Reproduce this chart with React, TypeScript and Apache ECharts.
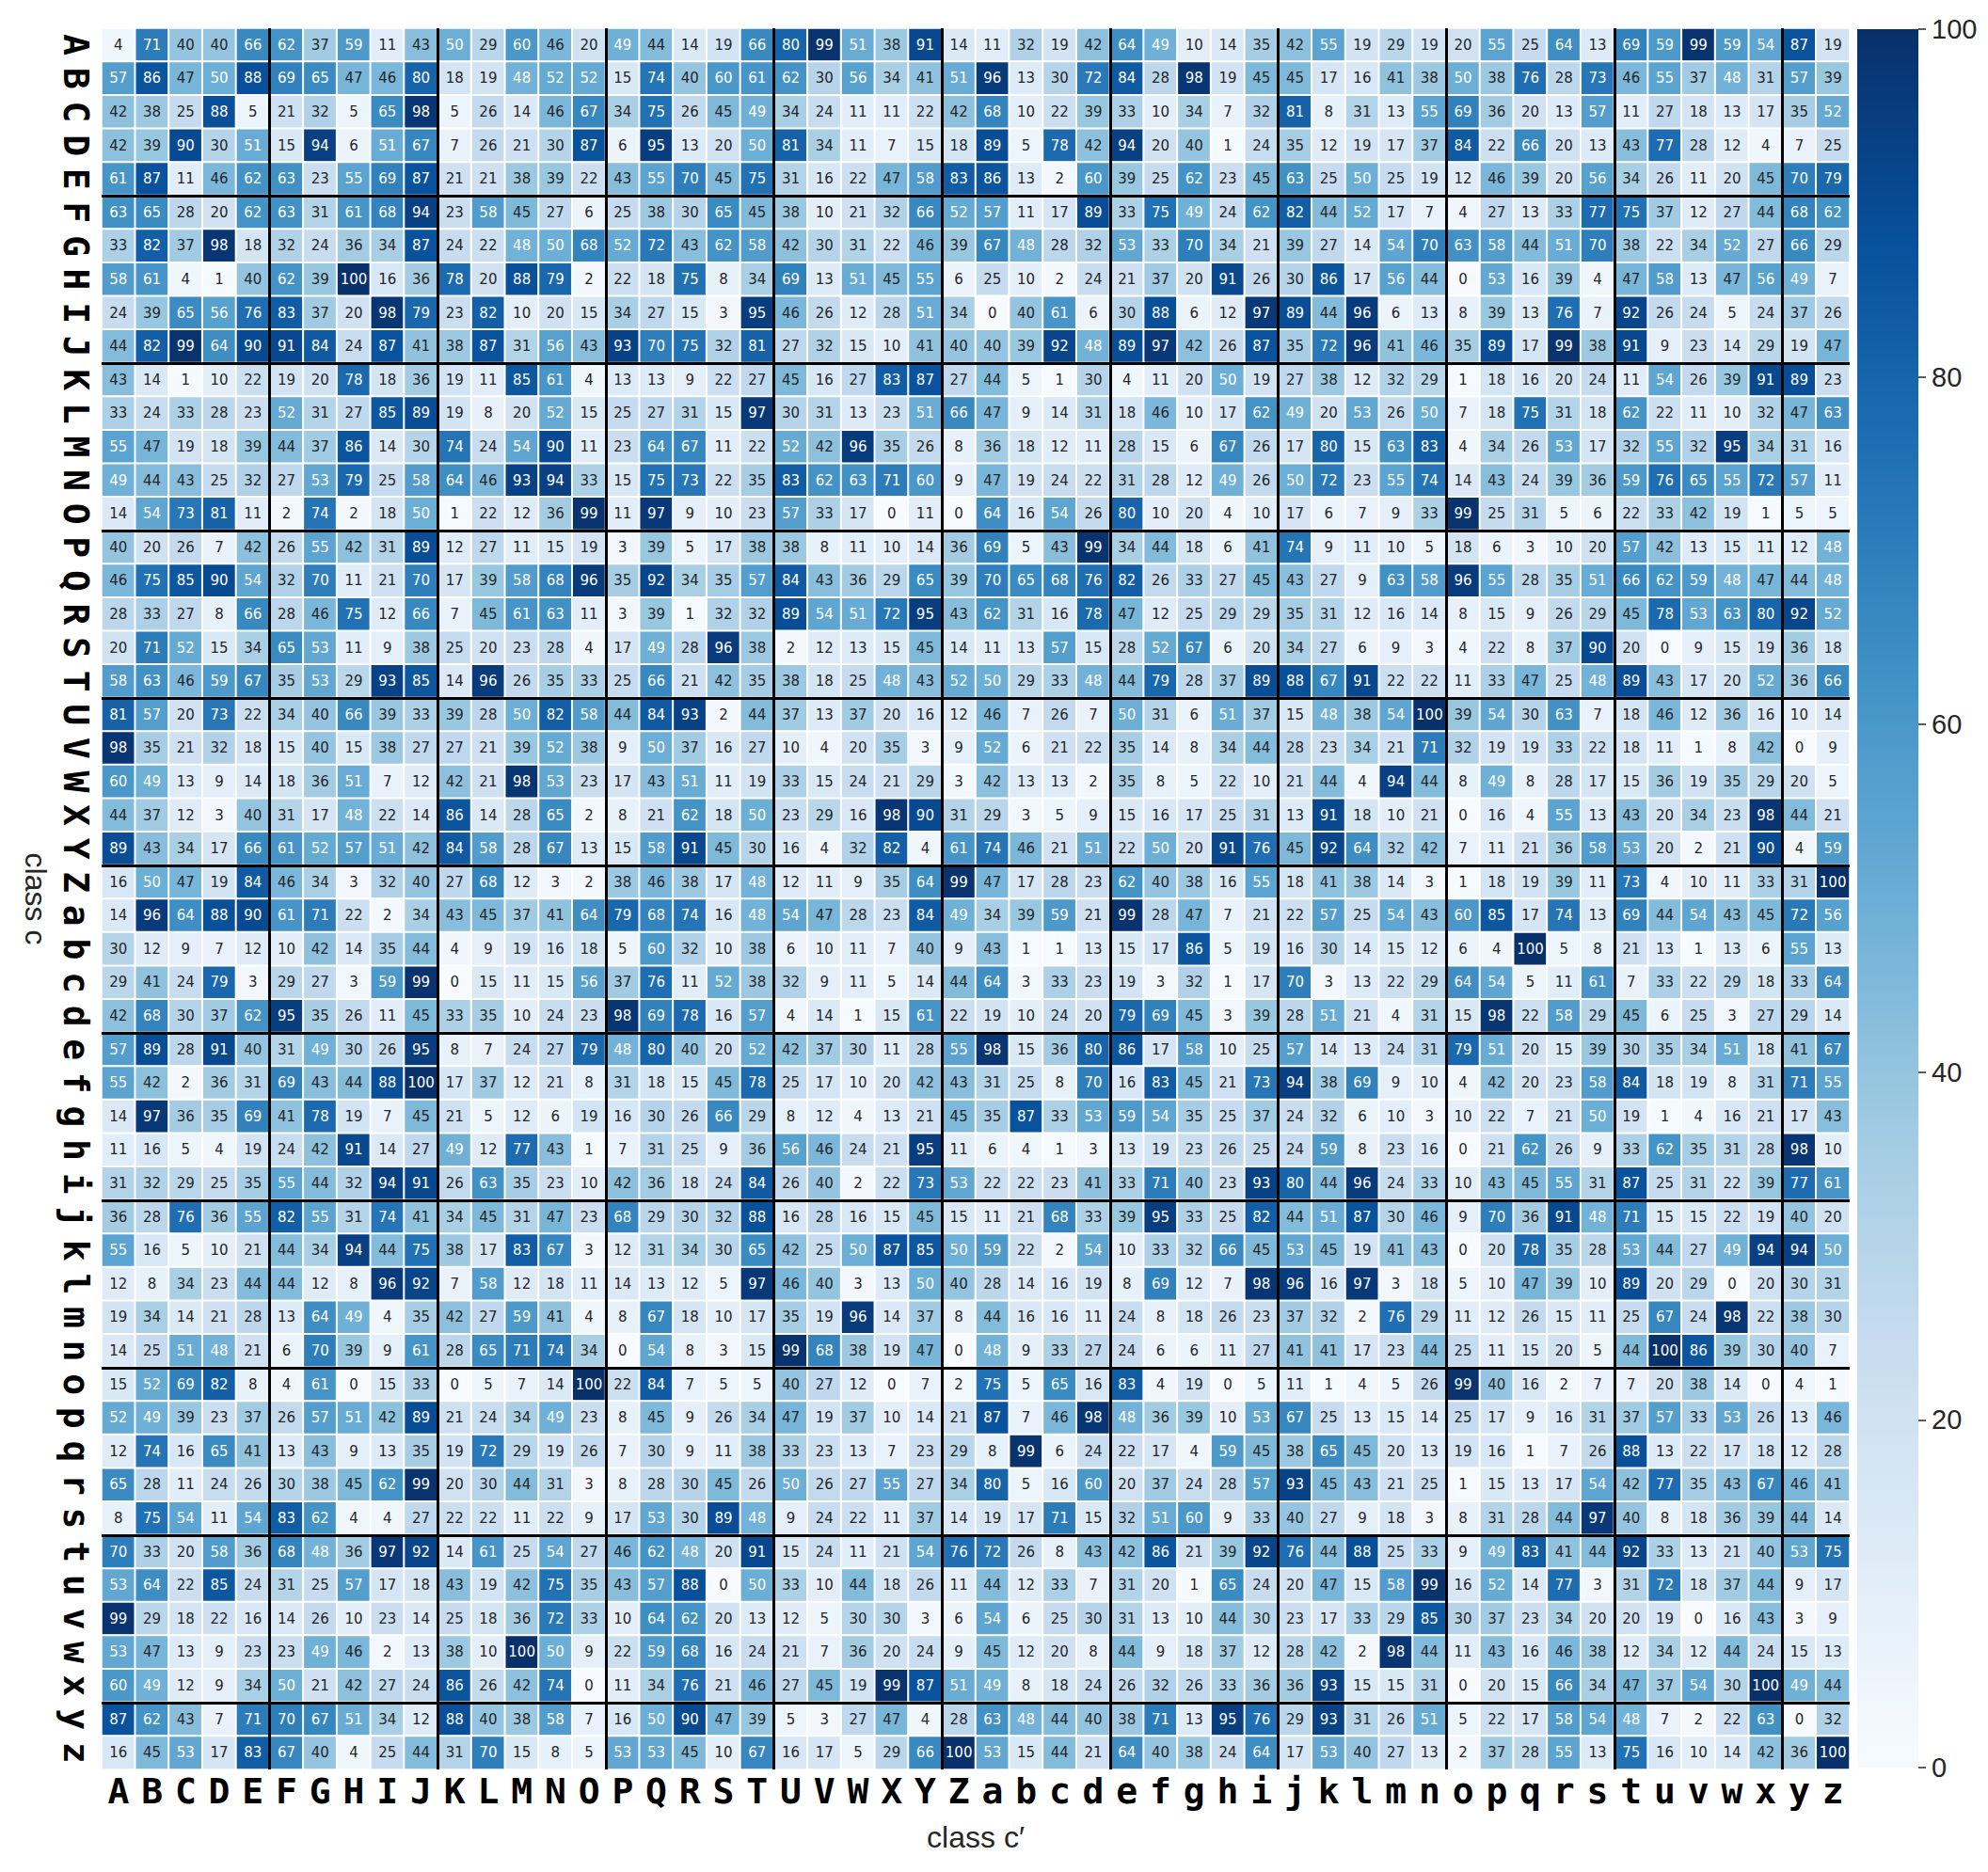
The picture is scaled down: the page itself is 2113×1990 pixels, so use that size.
import React, { useEffect, useRef } from 'react';
import * as echarts from 'echarts';

const classLabels: string[] = 'ABCDEFGHIJKLMNOPQRSTUVWXYZabcdefghijklmnopqrstuvwxyz'.split('');

const bluesPalette: string[] = ['#f7fbff', '#deebf7', '#c6dbef', '#9ecae1', '#6baed6', '#4292c6', '#2171b5', '#08519c', '#08306b'];

const colorbarMin = 0;
const colorbarMax = 100;
const colorbarStep = 20;

// rows A..Z, columns A..z
const upperRows: number[][] = [
  [4, 71, 40, 40, 66, 62, 37, 59, 11, 43, 50, 29, 60, 46, 20, 49, 44, 14, 19, 66, 80, 99, 51, 38, 91, 14, 11, 32, 19, 42, 64, 49, 10, 14, 35, 42, 55, 19, 29, 19, 20, 55, 25, 64, 13, 69, 59, 99, 59, 54, 87, 19],
  [57, 86, 47, 50, 88, 69, 65, 47, 46, 80, 18, 19, 48, 52, 52, 15, 74, 40, 60, 61, 62, 30, 56, 34, 41, 51, 96, 13, 30, 72, 84, 28, 98, 19, 45, 45, 17, 16, 41, 38, 50, 38, 76, 28, 73, 46, 55, 37, 48, 31, 57, 39],
  [42, 38, 25, 88, 5, 21, 32, 5, 65, 98, 5, 26, 14, 46, 67, 34, 75, 26, 45, 49, 34, 24, 11, 11, 22, 42, 68, 10, 22, 39, 33, 10, 34, 7, 32, 81, 8, 31, 13, 55, 69, 36, 20, 13, 57, 11, 27, 18, 13, 17, 35, 52],
  [42, 39, 90, 30, 51, 15, 94, 6, 51, 67, 7, 26, 21, 30, 87, 6, 95, 13, 20, 50, 81, 34, 11, 7, 15, 18, 89, 5, 78, 42, 94, 20, 40, 1, 24, 35, 12, 19, 17, 37, 84, 22, 66, 20, 13, 43, 77, 28, 12, 4, 7, 25],
  [61, 87, 11, 46, 62, 63, 23, 55, 69, 87, 21, 21, 38, 39, 22, 43, 55, 70, 45, 75, 31, 16, 22, 47, 58, 83, 86, 13, 2, 60, 39, 25, 62, 23, 45, 63, 25, 50, 25, 19, 12, 46, 39, 20, 56, 34, 26, 11, 20, 45, 70, 79],
  [63, 65, 28, 20, 62, 63, 31, 61, 68, 94, 23, 58, 45, 27, 6, 25, 38, 30, 65, 45, 38, 10, 21, 32, 66, 52, 57, 11, 17, 89, 33, 75, 49, 24, 62, 82, 44, 52, 17, 7, 4, 27, 13, 33, 77, 75, 37, 12, 27, 44, 68, 62],
  [33, 82, 37, 98, 18, 32, 24, 36, 34, 87, 24, 22, 48, 50, 68, 52, 72, 43, 62, 58, 42, 30, 31, 22, 46, 39, 67, 48, 28, 32, 53, 33, 70, 34, 21, 39, 27, 14, 54, 70, 63, 58, 44, 51, 70, 38, 22, 34, 52, 27, 66, 29],
  [58, 61, 4, 1, 40, 62, 39, 100, 16, 36, 78, 20, 88, 79, 2, 22, 18, 75, 8, 34, 69, 13, 51, 45, 55, 6, 25, 10, 2, 24, 21, 37, 20, 91, 26, 30, 86, 17, 56, 44, 0, 53, 16, 39, 4, 47, 58, 13, 47, 56, 49, 7],
  [24, 39, 65, 56, 76, 83, 37, 20, 98, 79, 23, 82, 10, 20, 15, 34, 27, 15, 3, 95, 46, 26, 12, 28, 51, 34, 0, 40, 61, 6, 30, 88, 6, 12, 97, 89, 44, 96, 6, 13, 8, 39, 13, 76, 7, 92, 26, 24, 5, 24, 37, 26],
  [44, 82, 99, 64, 90, 91, 84, 24, 87, 41, 38, 87, 31, 56, 43, 93, 70, 75, 32, 81, 27, 32, 15, 10, 41, 40, 40, 39, 92, 48, 89, 97, 42, 26, 87, 35, 72, 96, 41, 46, 35, 89, 17, 99, 38, 91, 9, 23, 14, 29, 19, 47],
  [43, 14, 1, 10, 22, 19, 20, 78, 18, 36, 19, 11, 85, 61, 4, 13, 13, 9, 22, 27, 45, 16, 27, 83, 87, 27, 44, 5, 1, 30, 4, 11, 20, 50, 19, 27, 38, 12, 32, 29, 1, 18, 16, 20, 24, 11, 54, 26, 39, 91, 89, 23],
  [33, 24, 33, 28, 23, 52, 31, 27, 85, 89, 19, 8, 20, 52, 15, 25, 27, 31, 15, 97, 30, 31, 13, 23, 51, 66, 47, 9, 14, 31, 18, 46, 10, 17, 62, 49, 20, 53, 26, 50, 7, 18, 75, 31, 18, 62, 22, 11, 10, 32, 47, 63],
  [55, 47, 19, 18, 39, 44, 37, 86, 14, 30, 74, 24, 54, 90, 11, 23, 64, 67, 11, 22, 52, 42, 96, 35, 26, 8, 36, 18, 12, 11, 28, 15, 6, 67, 26, 17, 80, 15, 63, 83, 4, 34, 26, 53, 17, 32, 55, 32, 95, 34, 31, 16],
  [49, 44, 43, 25, 32, 27, 53, 79, 25, 58, 64, 46, 93, 94, 33, 15, 75, 73, 22, 35, 83, 62, 63, 71, 60, 9, 47, 19, 24, 22, 31, 28, 12, 49, 26, 50, 72, 23, 55, 74, 14, 43, 24, 39, 36, 59, 76, 65, 55, 72, 57, 11],
  [14, 54, 73, 81, 11, 2, 74, 2, 18, 50, 1, 22, 12, 36, 99, 11, 97, 9, 10, 23, 57, 33, 17, 0, 11, 0, 64, 16, 54, 26, 80, 10, 20, 4, 10, 17, 6, 7, 9, 33, 99, 25, 31, 5, 6, 22, 33, 42, 19, 1, 5, 5],
  [40, 20, 26, 7, 42, 26, 55, 42, 31, 89, 12, 27, 11, 15, 19, 3, 39, 5, 17, 38, 38, 8, 11, 10, 14, 36, 69, 5, 43, 99, 34, 44, 18, 6, 41, 74, 9, 11, 10, 5, 18, 6, 3, 10, 20, 57, 42, 13, 15, 11, 12, 48],
  [46, 75, 85, 90, 54, 32, 70, 11, 21, 70, 17, 39, 58, 68, 96, 35, 92, 34, 35, 57, 84, 43, 36, 29, 65, 39, 70, 65, 68, 76, 82, 26, 33, 27, 45, 43, 27, 9, 63, 58, 96, 55, 28, 35, 51, 66, 62, 59, 48, 47, 44, 48],
  [28, 33, 27, 8, 66, 28, 46, 75, 12, 66, 7, 45, 61, 63, 11, 3, 39, 1, 32, 32, 89, 54, 51, 72, 95, 43, 62, 31, 16, 78, 47, 12, 25, 29, 29, 35, 31, 12, 16, 14, 8, 15, 9, 26, 29, 45, 78, 53, 63, 80, 92, 52],
  [20, 71, 52, 15, 34, 65, 53, 11, 9, 38, 25, 20, 23, 28, 4, 17, 49, 28, 96, 38, 2, 12, 13, 15, 45, 14, 11, 13, 57, 15, 28, 52, 67, 6, 20, 34, 27, 6, 9, 3, 4, 22, 8, 37, 90, 20, 0, 9, 15, 19, 36, 18],
  [58, 63, 46, 59, 67, 35, 53, 29, 93, 85, 14, 96, 26, 35, 33, 25, 66, 21, 42, 35, 38, 18, 25, 48, 43, 52, 50, 29, 33, 48, 44, 79, 28, 37, 89, 88, 67, 91, 22, 22, 11, 33, 47, 25, 48, 89, 43, 17, 20, 52, 36, 66],
  [81, 57, 20, 73, 22, 34, 40, 66, 39, 33, 39, 28, 50, 82, 58, 44, 84, 93, 2, 44, 37, 13, 37, 20, 16, 12, 46, 7, 26, 7, 50, 31, 6, 51, 37, 15, 48, 38, 54, 100, 39, 54, 30, 63, 7, 18, 46, 12, 36, 16, 10, 14],
  [98, 35, 21, 32, 18, 15, 40, 15, 38, 27, 27, 21, 39, 52, 38, 9, 50, 37, 16, 27, 10, 4, 20, 35, 3, 9, 52, 6, 21, 22, 35, 14, 8, 34, 44, 28, 23, 34, 21, 71, 32, 19, 19, 33, 22, 18, 11, 1, 8, 42, 0, 9],
  [60, 49, 13, 9, 14, 18, 36, 51, 7, 12, 42, 21, 98, 53, 23, 17, 43, 51, 11, 19, 33, 15, 24, 21, 29, 3, 42, 13, 13, 2, 35, 8, 5, 22, 10, 21, 44, 4, 94, 44, 8, 49, 8, 28, 17, 15, 36, 19, 35, 29, 20, 5],
  [44, 37, 12, 3, 40, 31, 17, 48, 22, 14, 86, 14, 28, 65, 2, 8, 21, 62, 18, 50, 23, 29, 16, 98, 90, 31, 29, 3, 5, 9, 15, 16, 17, 25, 31, 13, 91, 18, 10, 21, 0, 16, 4, 55, 13, 43, 20, 34, 23, 98, 44, 21],
  [89, 43, 34, 17, 66, 61, 52, 57, 51, 42, 84, 58, 28, 67, 13, 15, 58, 91, 45, 30, 16, 4, 32, 82, 4, 61, 74, 46, 21, 51, 22, 50, 20, 91, 76, 45, 92, 64, 32, 42, 7, 11, 21, 36, 58, 53, 20, 2, 21, 90, 4, 59],
  [16, 50, 47, 19, 84, 46, 34, 3, 32, 40, 27, 68, 12, 3, 2, 38, 46, 38, 17, 48, 12, 11, 9, 35, 64, 99, 47, 17, 28, 23, 62, 40, 38, 16, 55, 18, 41, 38, 14, 3, 1, 18, 19, 39, 11, 73, 4, 10, 11, 33, 31, 100],
];

// rows a..z, columns A..z
const lowerRows: number[][] = [
  [14, 96, 64, 88, 90, 61, 71, 22, 2, 34, 43, 45, 37, 41, 64, 79, 68, 74, 16, 48, 54, 47, 28, 23, 84, 49, 34, 39, 59, 21, 99, 28, 47, 7, 21, 22, 57, 25, 54, 43, 60, 85, 17, 74, 13, 69, 44, 54, 43, 45, 72, 56],
  [30, 12, 9, 7, 12, 10, 42, 14, 35, 44, 4, 9, 19, 16, 18, 5, 60, 32, 10, 38, 6, 10, 11, 7, 40, 9, 43, 1, 1, 13, 15, 17, 86, 5, 19, 16, 30, 14, 15, 12, 6, 4, 100, 5, 8, 21, 13, 1, 13, 6, 55, 13],
  [29, 41, 24, 79, 3, 29, 27, 3, 59, 99, 0, 15, 11, 15, 56, 37, 76, 11, 52, 38, 32, 9, 11, 5, 14, 44, 64, 3, 33, 23, 19, 3, 32, 1, 17, 70, 3, 13, 22, 29, 64, 54, 5, 11, 61, 7, 33, 22, 29, 18, 33, 64],
  [42, 68, 30, 37, 62, 95, 35, 26, 11, 45, 33, 35, 10, 24, 23, 98, 69, 78, 16, 57, 4, 14, 1, 15, 61, 22, 19, 10, 24, 20, 79, 69, 45, 3, 39, 28, 51, 21, 4, 31, 15, 98, 22, 58, 29, 45, 6, 25, 3, 27, 29, 14],
  [57, 89, 28, 91, 40, 31, 49, 30, 26, 95, 8, 7, 24, 27, 79, 48, 80, 40, 20, 52, 42, 37, 30, 11, 28, 55, 98, 15, 36, 80, 86, 17, 58, 10, 25, 57, 14, 13, 24, 31, 79, 51, 20, 15, 39, 30, 35, 34, 51, 18, 41, 67],
  [55, 42, 2, 36, 31, 69, 43, 44, 88, 100, 17, 37, 12, 21, 8, 31, 18, 15, 45, 78, 25, 17, 10, 20, 42, 43, 31, 25, 8, 70, 16, 83, 45, 21, 73, 94, 38, 69, 9, 10, 4, 42, 20, 23, 58, 84, 18, 19, 8, 31, 71, 55],
  [14, 97, 36, 35, 69, 41, 78, 19, 7, 45, 21, 5, 12, 6, 19, 16, 30, 26, 66, 29, 8, 12, 4, 13, 21, 45, 35, 87, 33, 53, 59, 54, 35, 25, 37, 24, 32, 6, 10, 3, 10, 22, 7, 21, 50, 19, 1, 4, 16, 21, 17, 43],
  [11, 16, 5, 4, 19, 24, 42, 91, 14, 27, 49, 12, 77, 43, 1, 7, 31, 25, 9, 36, 56, 46, 24, 21, 95, 11, 6, 4, 1, 3, 13, 19, 23, 26, 25, 24, 59, 8, 23, 16, 0, 21, 62, 26, 9, 33, 62, 35, 31, 28, 98, 10],
  [31, 32, 29, 25, 35, 55, 44, 32, 94, 91, 26, 63, 35, 23, 10, 42, 36, 18, 24, 84, 26, 40, 2, 22, 73, 53, 22, 22, 23, 41, 33, 71, 40, 23, 93, 80, 44, 96, 24, 33, 10, 43, 45, 55, 31, 87, 25, 31, 22, 39, 77, 61],
  [36, 28, 76, 36, 55, 82, 55, 31, 74, 41, 34, 45, 31, 47, 23, 68, 29, 30, 32, 88, 16, 28, 16, 15, 45, 15, 11, 21, 68, 33, 39, 95, 33, 25, 82, 44, 51, 87, 30, 46, 9, 70, 36, 91, 48, 71, 15, 15, 22, 19, 40, 20],
  [55, 16, 5, 10, 21, 44, 34, 94, 44, 75, 38, 17, 83, 67, 3, 12, 31, 34, 30, 65, 42, 25, 50, 87, 85, 50, 59, 22, 2, 54, 10, 33, 32, 66, 45, 53, 45, 19, 41, 43, 0, 20, 78, 35, 28, 53, 44, 27, 49, 94, 94, 50],
  [12, 8, 34, 23, 44, 44, 12, 8, 96, 92, 7, 58, 12, 18, 11, 14, 13, 12, 5, 97, 46, 40, 3, 13, 50, 40, 28, 14, 16, 19, 8, 69, 12, 7, 98, 96, 16, 97, 3, 18, 5, 10, 47, 39, 10, 89, 20, 29, 0, 20, 30, 31],
  [19, 34, 14, 21, 28, 13, 64, 49, 4, 35, 42, 27, 59, 41, 4, 8, 67, 18, 10, 17, 35, 19, 96, 14, 37, 8, 44, 16, 16, 11, 24, 8, 18, 26, 23, 37, 32, 2, 76, 29, 11, 12, 26, 15, 11, 25, 67, 24, 98, 22, 38, 30],
  [14, 25, 51, 48, 21, 6, 70, 39, 9, 61, 28, 65, 71, 74, 34, 0, 54, 8, 3, 15, 99, 68, 38, 19, 47, 0, 48, 9, 33, 27, 24, 6, 6, 11, 27, 41, 41, 17, 23, 44, 25, 11, 15, 20, 5, 44, 100, 86, 39, 30, 40, 7],
  [15, 52, 69, 82, 8, 4, 61, 0, 15, 33, 0, 5, 7, 14, 100, 22, 84, 7, 5, 5, 40, 27, 12, 0, 7, 2, 75, 5, 65, 16, 83, 4, 19, 0, 5, 11, 1, 4, 5, 26, 99, 40, 16, 2, 7, 7, 20, 38, 14, 0, 4, 1],
  [52, 49, 39, 23, 37, 26, 57, 51, 42, 89, 21, 24, 34, 49, 23, 8, 45, 9, 26, 34, 47, 19, 37, 10, 14, 21, 87, 7, 46, 98, 48, 36, 39, 10, 53, 67, 25, 13, 15, 14, 25, 17, 9, 16, 31, 37, 57, 33, 53, 26, 13, 46],
  [12, 74, 16, 65, 41, 13, 43, 9, 13, 35, 19, 72, 29, 19, 26, 7, 30, 9, 11, 38, 33, 23, 13, 7, 23, 29, 8, 99, 6, 24, 22, 17, 4, 59, 45, 38, 65, 45, 20, 13, 19, 16, 1, 7, 26, 88, 13, 22, 17, 18, 12, 28],
  [65, 28, 11, 24, 26, 30, 38, 45, 62, 99, 20, 30, 44, 31, 3, 8, 28, 30, 45, 26, 50, 26, 27, 55, 27, 34, 80, 5, 16, 60, 20, 37, 24, 28, 57, 93, 45, 43, 21, 25, 1, 15, 13, 17, 54, 42, 77, 35, 43, 67, 46, 41],
  [8, 75, 54, 11, 54, 83, 62, 4, 4, 27, 22, 22, 11, 22, 9, 17, 53, 30, 89, 48, 9, 24, 22, 11, 37, 14, 19, 17, 71, 15, 32, 51, 60, 9, 33, 40, 27, 9, 18, 3, 8, 31, 28, 44, 97, 40, 8, 18, 36, 39, 44, 14],
  [70, 33, 20, 58, 36, 68, 48, 36, 97, 92, 14, 61, 25, 54, 27, 46, 62, 48, 20, 91, 15, 24, 11, 21, 54, 76, 72, 26, 8, 43, 42, 86, 21, 39, 92, 76, 44, 88, 25, 33, 9, 49, 83, 41, 44, 92, 33, 13, 21, 40, 53, 75],
  [53, 64, 22, 85, 24, 31, 25, 57, 17, 18, 43, 19, 42, 75, 35, 43, 57, 88, 0, 50, 33, 10, 44, 18, 26, 11, 44, 12, 33, 7, 31, 20, 1, 65, 24, 20, 47, 15, 58, 99, 16, 52, 14, 77, 3, 31, 72, 18, 37, 44, 9, 17],
  [99, 29, 18, 22, 16, 14, 26, 10, 23, 14, 25, 18, 36, 72, 33, 10, 64, 62, 20, 13, 12, 5, 30, 30, 3, 6, 54, 6, 25, 30, 31, 13, 10, 44, 30, 23, 17, 33, 29, 85, 30, 37, 23, 34, 20, 20, 19, 0, 16, 43, 3, 9],
  [53, 47, 13, 9, 23, 23, 49, 46, 2, 13, 38, 10, 100, 50, 9, 22, 59, 68, 16, 24, 21, 7, 36, 20, 24, 9, 45, 12, 20, 8, 44, 9, 18, 37, 12, 28, 42, 2, 98, 44, 11, 43, 16, 46, 38, 12, 34, 12, 44, 24, 15, 13],
  [60, 49, 12, 9, 34, 50, 21, 42, 27, 24, 86, 26, 42, 74, 0, 11, 34, 76, 21, 46, 27, 45, 19, 99, 87, 51, 49, 8, 18, 24, 26, 32, 26, 33, 36, 36, 93, 15, 15, 31, 0, 20, 15, 66, 34, 47, 37, 54, 30, 100, 49, 44],
  [87, 62, 43, 7, 71, 70, 67, 51, 34, 12, 88, 40, 38, 58, 7, 16, 50, 90, 47, 39, 5, 3, 27, 47, 4, 28, 63, 48, 44, 40, 38, 71, 13, 95, 76, 29, 93, 31, 26, 51, 5, 22, 17, 58, 54, 48, 7, 2, 22, 63, 0, 32],
  [16, 45, 53, 17, 83, 67, 40, 4, 25, 44, 31, 70, 15, 8, 5, 53, 53, 45, 10, 67, 16, 17, 5, 29, 66, 100, 53, 15, 44, 21, 64, 40, 38, 24, 64, 17, 53, 40, 27, 13, 2, 37, 28, 55, 13, 75, 16, 10, 14, 42, 36, 100],
];

const groupSize = 5;
const whiteTextFrom = 48;

export default function App() {
  const ref = useRef<HTMLDivElement>(null);

  useEffect(() => {
    if (!ref.current) return;
    const chart = echarts.init(ref.current, null, { renderer: 'svg' });
    const matrix = [...upperRows, ...lowerRows];
    const cells: any[] = [];
    matrix.forEach((row, y) => {
      row.forEach((v, x) => {
        cells.push({
          value: [x, y, v],
          label: { color: v >= whiteTextFrom ? '#ffffff' : '#262626' },
        });
      });
    });

    const groupLine = (index: number) => index > 0 && index % groupSize === 0;

    const gradientStops = bluesPalette
      .map((c, i) => ({ offset: 1 - i / (bluesPalette.length - 1), color: c }))
      .reverse();

    const tickFont = {
      fontFamily: 'DejaVu Sans Mono',
      fontWeight: 'bold' as const,
      fontSize: 38,
      color: '#000000',
    };

    const nameFont = { fontFamily: 'Liberation Sans, Arial', fontSize: 32, color: '#262626' };

    const option: any = {
      animation: false,
      backgroundColor: '#ffffff',
      grid: [
        { left: 108, top: 30, width: 1858, height: 1851, containLabel: false },
        { left: 1974, top: 31, width: 65, height: 1848, containLabel: false },
      ],
      xAxis: [
        {
          type: 'category',
          gridIndex: 0,
          data: classLabels,
          position: 'bottom',
          z: 5,
          axisLine: { show: false },
          axisTick: { show: false },
          axisLabel: { ...tickFont, interval: 0, margin: 4 },
          splitLine: {
            show: true,
            interval: groupLine,
            showMinLine: true,
            showMaxLine: false,
            lineStyle: { color: '#000000', width: 3 },
          },
          name: 'class c\u2032',
          nameLocation: 'middle',
          nameGap: 56,
          nameTextStyle: nameFont,
        },
        {
          type: 'category',
          gridIndex: 1,
          data: ['scale'],
          show: false,
        },
      ],
      yAxis: [
        {
          type: 'category',
          gridIndex: 0,
          data: classLabels,
          inverse: true,
          z: 5,
          axisLine: { show: false },
          axisTick: { show: false },
          axisLabel: { ...tickFont, interval: 0, rotate: -90, margin: 8 },
          splitLine: {
            show: true,
            interval: groupLine,
            showMinLine: true,
            showMaxLine: false,
            lineStyle: { color: '#000000', width: 3 },
          },
          name: 'class c',
          nameLocation: 'middle',
          nameRotate: -90,
          nameGap: 54,
          nameTextStyle: nameFont,
        },
        {
          type: 'value',
          gridIndex: 1,
          min: colorbarMin,
          max: colorbarMax,
          interval: colorbarStep,
          position: 'right',
          axisLine: { show: false },
          axisTick: { show: true, length: 8, lineStyle: { color: '#262626', width: 1.5 } },
          splitLine: { show: false },
          axisLabel: { fontFamily: 'Liberation Sans, Arial', fontSize: 29, color: '#262626', margin: 14 },
        },
      ],
      visualMap: {
        show: false,
        type: 'continuous',
        min: colorbarMin,
        max: colorbarMax,
        dimension: 2,
        seriesIndex: 0,
        inRange: { color: bluesPalette },
      },
      series: [
        {
          type: 'heatmap',
          xAxisIndex: 0,
          yAxisIndex: 0,
          data: cells,
          label: { show: true, fontFamily: 'DejaVu Sans', fontSize: 15 },
          itemStyle: { borderColor: '#ffffff', borderWidth: 2 },
          emphasis: { disabled: true },
        },
        {
          type: 'bar',
          xAxisIndex: 1,
          yAxisIndex: 1,
          data: [colorbarMax],
          barWidth: '100%',
          silent: true,
          itemStyle: {
            color: new echarts.graphic.LinearGradient(0, 0, 0, 1, gradientStops),
          },
        },
      ],
    };

    chart.setOption(option);
    return () => chart.dispose();
  }, []);

  return (
    <div
      ref={ref}
      style={{ position: 'absolute', left: 0, top: 0, width: 2113, height: 1990 }}
    />
  );
}
